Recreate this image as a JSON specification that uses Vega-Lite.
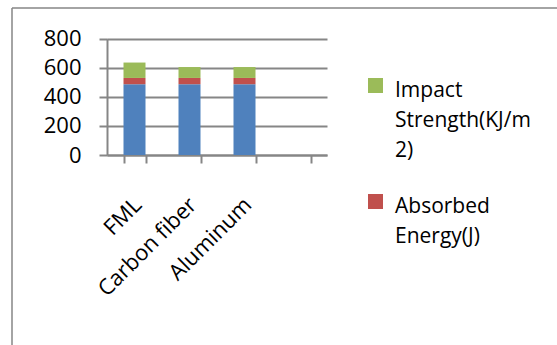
{
  "$schema": "https://vega.github.io/schema/vega-lite/v6.json",
  "width": 545,
  "height": 337,
  "autosize": {"type": "none"},
  "padding": {"left": 12, "top": 8, "right": 0, "bottom": 0},
  "background": "white",
  "config": {
    "font": "Open Sans",
    "view": {"stroke": "#868686", "strokeWidth": 1.5, "strokeDash": [545, 882, 337, 0]},
    "style": {"guide-label": {"lineHeight": 30}}
  },
  "data": {
    "values": [
      {"material": "FML", "series": "Tensile Strength(MPa)", "value": 487},
      {"material": "FML", "series": "Absorbed Energy(J)", "value": 43},
      {"material": "FML", "series": "Impact Strength(KJ/m2)", "value": 106},
      {"material": "Carbon fiber", "series": "Tensile Strength(MPa)", "value": 487},
      {"material": "Carbon fiber", "series": "Absorbed Energy(J)", "value": 43},
      {"material": "Carbon fiber", "series": "Impact Strength(KJ/m2)", "value": 75},
      {"material": "Aluminum", "series": "Tensile Strength(MPa)", "value": 487},
      {"material": "Aluminum", "series": "Absorbed Energy(J)", "value": 43},
      {"material": "Aluminum", "series": "Impact Strength(KJ/m2)", "value": 75}
    ]
  },
  "transform": [
    {"calculate": "indexof(['Tensile Strength(MPa)','Absorbed Energy(J)','Impact Strength(KJ/m2)'], datum.series)", "as": "stackRank"}
  ],
  "mark": {"type": "bar"},
  "encoding": {
    "x": {
      "field": "material",
      "type": "nominal",
      "sort": null,
      "scale": {"domain": ["FML", "Carbon fiber", "Aluminum", " "], "range": [95, 315], "paddingInner": 0.6, "paddingOuter": 0.3},
      "axis": {
        "orient": "bottom",
        "offset": -190,
        "title": null,
        "grid": false,
        "domainColor": "#868686",
        "domainWidth": 2,
        "tickColor": "#868686",
        "tickWidth": 2,
        "tickSize": 8,
        "tickBand": "extent",
        "labelAngle": -45,
        "labelAlign": "right",
        "labelBaseline": "middle",
        "labelFontSize": 22,
        "labelPadding": 38,
        "labelOffset": 3,
        "labelColor": "black"
      }
    },
    "y": {
      "field": "value",
      "type": "quantitative",
      "stack": "zero",
      "scale": {"domain": [0, 800], "range": [147, 30.7], "nice": false},
      "axis": {
        "orient": "left",
        "offset": -95,
        "title": null,
        "values": [0, 200, 400, 600, 800],
        "grid": true,
        "gridColor": "#868686",
        "gridWidth": 2,
        "domainColor": "#868686",
        "domainWidth": 2,
        "tickColor": "#868686",
        "tickWidth": 2,
        "tickSize": 8,
        "labelFontSize": 22,
        "labelPadding": 18,
        "labelColor": "black"
      }
    },
    "color": {
      "field": "series",
      "type": "nominal",
      "scale": {
        "domain": ["Tensile Strength(MPa)", "Absorbed Energy(J)", "Impact Strength(KJ/m2)"],
        "range": ["#4F81BD", "#C0504D", "#9BBB59"]
      },
      "legend": {
        "orient": "none",
        "legendX": 353,
        "legendY": 61,
        "values": ["Impact Strength(KJ/m2)", "Absorbed Energy(J)"],
        "title": null,
        "padding": 0,
        "symbolType": "M-1,-0.2H1V1.8H-1Z",
        "symbolSize": 225,
        "symbolStrokeWidth": 0,
        "labelFontSize": 21,
        "labelBaseline": "top",
        "labelOffset": 9,
        "labelLimit": 300,
        "labelColor": "black",
        "rowPadding": 24,
        "labelExpr": "datum.label == 'Impact Strength(KJ/m2)' ? ['Impact', 'Strength(KJ/m', '2)'] : ['Absorbed', 'Energy(J)']"
      }
    },
    "order": {"field": "stackRank", "type": "quantitative"}
  }
}
